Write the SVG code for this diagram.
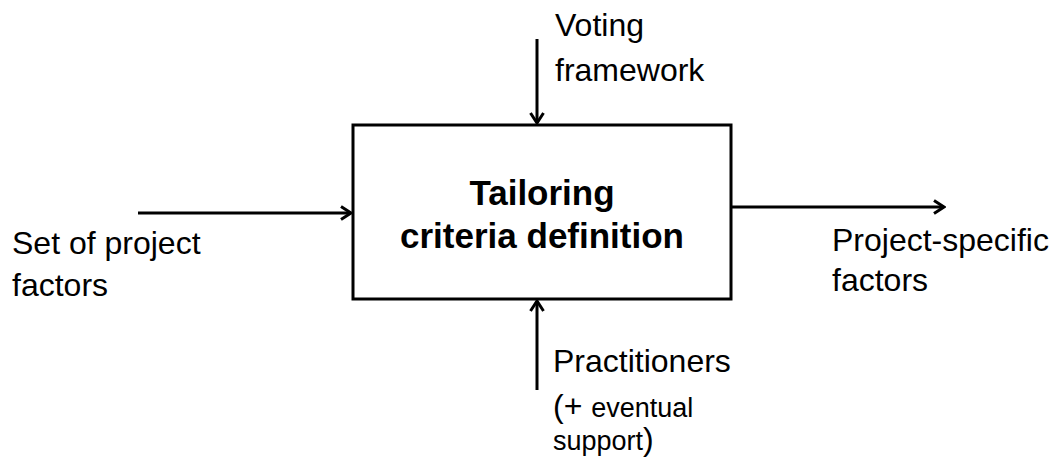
<svg xmlns="http://www.w3.org/2000/svg" width="1056" height="460" viewBox="0 0 1056 460">
  <style>
    .lbl { font-family: "Liberation Sans", Arial, sans-serif; font-size: 32px; fill: #000; }
    .sm { font-size: 27px; }
    .title { font-family: "Liberation Sans", Arial, sans-serif; font-size: 35px; font-weight: bold; fill: #000; text-anchor: middle; }
    .box { fill: #fff; stroke: #000; stroke-width: 3; }
    .flow { fill: none; stroke: #000; stroke-width: 3; marker-end: url(#chev); }
  </style>
  <defs>
    <marker id="chev" markerUnits="userSpaceOnUse" viewBox="0 0 14 16" refX="12" refY="8" markerWidth="14" markerHeight="16" orient="auto">
      <path d="M2,1.5 L12,8 L2,14.5" fill="none" stroke="#000" stroke-width="3" stroke-linejoin="miter"/>
    </marker>
  </defs>
  <rect width="1056" height="460" fill="#fff"/>

  <g id="process">
    <rect class="box" x="353" y="125" width="378" height="174"/>
    <text class="title" x="542" y="205">Tailoring</text>
    <text class="title" x="542" y="248">criteria definition</text>
  </g>

  <g id="control">
    <text class="lbl" x="555" y="36">Voting</text>
    <text class="lbl" x="555" y="81">framework</text>
  </g>

  <g id="input">
    <text class="lbl" x="12" y="254">Set of project</text>
    <text class="lbl" x="12" y="296">factors</text>
  </g>

  <g id="output">
    <text class="lbl" x="832" y="251">Project-specific</text>
    <text class="lbl" x="832" y="291">factors</text>
  </g>

  <g id="mechanism">
    <text class="lbl" x="553" y="372">Practitioners</text>
    <text class="lbl" x="553" y="417">(+ <tspan class="sm">eventual</tspan></text>
    <text class="lbl" x="553" y="450"><tspan class="sm">support</tspan>)</text>
  </g>

  <g id="connectors">
    <line class="flow" x1="537" y1="39" x2="537" y2="123"/>
    <line class="flow" x1="138" y1="213" x2="351" y2="213"/>
    <line class="flow" x1="731" y1="207" x2="944" y2="207"/>
    <line class="flow" x1="537" y1="390" x2="537" y2="301"/>
  </g>
</svg>
